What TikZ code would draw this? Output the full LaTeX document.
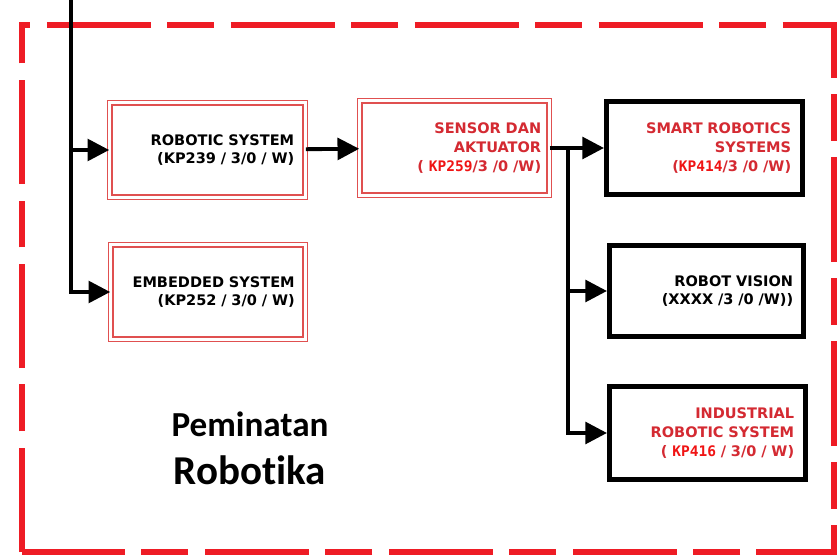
\documentclass[tikz,border=0pt]{standalone}
\usepackage{fontspec}
\setmainfont{DejaVu Sans}
\newfontfamily\codefont{DejaVu Sans Mono}
\newfontfamily\capfont[Ligatures=NoCommon]{Carlito}
\usetikzlibrary{arrows.meta}
\definecolor{framered}{HTML}{EE1C25}
\definecolor{boxred}{HTML}{E05050}
\definecolor{textred}{HTML}{D42A32}
\definecolor{codered}{HTML}{F01414}
\newcommand{\kp}[1]{{\codefont\color{codered}#1}}

\begin{document}
\begin{tikzpicture}[
  font=\fontsize{12.4}{16}\selectfont\bfseries,
  >={Triangle[length=6.5mm,width=6.5mm]},
  course/.style={draw=boxred, double=white, line width=1.1pt, double distance=2.6pt,
    minimum height=2.83cm, text width=5.2cm, align=right, fill=white},
  track/.style={draw=black, line width=4pt,
    minimum height=2.78cm, text width=5.2cm, align=right, fill=white},
  wire/.style={->, line width=3.3pt, draw=black},
  frame/.style={draw=framered, line width=4.5pt,
    dash pattern=on 89pt off 14pt on 40pt off 14pt}
]
\useasboundingbox (0,0) rectangle (25.11,16.71);
\draw[frame] (0.66,0.15) rectangle (25.02,15.96);

% Core courses
\node[course, minimum width=5.86cm] (robsys) at (6.225,12.21)
  {ROBOTIC SYSTEM\\(KP239 / 3/0 / W)};
\node[course, minimum width=5.83cm] (embed) at (6.24,7.95)
  {EMBEDDED SYSTEM\\(KP252 / 3/0 / W)};
\node[course, minimum width=5.68cm, text=textred] (sensor) at (13.635,12.27)
  {SENSOR DAN\\AKTUATOR\\( \kp{KP259}/3 /0 /W)};

% Elective courses
\node[track, minimum width=5.89cm, text=textred] (smart) at (21.135,12.27)
  {SMART ROBOTICS\\SYSTEMS\\(\kp{KP414}/3 /0 /W)};
\node[track, minimum width=5.83cm, minimum height=2.74cm] (vision) at (21.195,7.98)
  {ROBOT VISION\\(XXXX /3 /0 /W))};
\node[track, minimum width=5.89cm, text=textred] (indus) at (21.225,3.72)
  {INDUSTRIAL\\ROBOTIC SYSTEM\\( \kp{KP416} / 3/0 / W)};

\node[font=\capfont\bfseries\fontsize{30}{36}\selectfont, align=center] (title) at (7.5,3.25)
  {Peminatan\\[5pt]{\fontsize{35}{36}\selectfont Robotika}};

\coordinate (feed) at (2.13,16.71);
\coordinate (split) at (17.04,12.27);
\draw[wire] (feed) |- (embed.west);
\draw[wire] (feed |- robsys.west) -- (robsys.west);
\draw[wire] (robsys) -- (sensor);
\draw[wire] (sensor.east) -- (smart.west);
\draw[wire] (split) |- (vision.west);
\draw[wire] (split) |- (indus.west);
\end{tikzpicture}
\end{document}
